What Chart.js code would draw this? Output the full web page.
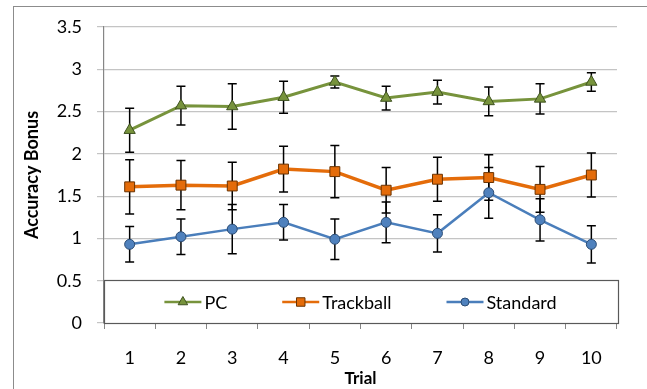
<!DOCTYPE html>
<html>
<head>
<meta charset="utf-8">
<script src="https://cdn.jsdelivr.net/npm/chart.js@4"></script>
<style>
  html, body { margin: 0; padding: 0; background: #fff; }
  .wrap { width: 647px; height: 389px; position: relative; }
</style>
</head>
<body>
<div class="wrap"><canvas class="acc-chart"></canvas></div>
<script>
const trials = ['1', '2', '3', '4', '5', '6', '7', '8', '9', '10'];
const yTickValues = [0, 0.5, 1, 1.5, 2, 2.5, 3, 3.5];

const pcMean = [2.28, 2.57, 2.56, 2.67, 2.85, 2.66, 2.73, 2.62, 2.65, 2.85];
const pcErr = [0.26, 0.23, 0.27, 0.19, 0.07, 0.14, 0.14, 0.17, 0.18, 0.11];

const trackMean = [1.61, 1.63, 1.62, 1.82, 1.79, 1.57, 1.70, 1.72, 1.58, 1.75];
const trackErr = [0.32, 0.29, 0.28, 0.27, 0.31, 0.27, 0.26, 0.27, 0.27, 0.26];

const stdMean = [0.93, 1.02, 1.11, 1.19, 0.99, 1.19, 1.06, 1.54, 1.22, 0.93];
const stdErr = [0.21, 0.21, 0.29, 0.21, 0.24, 0.24, 0.22, 0.30, 0.25, 0.22];

const fontFamily = 'Lato, "Open Sans", sans-serif';

// white page + the cut-off frame round the chart
const frame = {
    id: 'frame',
    beforeDraw(chart) {
        const c = chart.ctx;
        c.save();
        c.fillStyle = '#fff';
        c.fillRect(0, 0, chart.width, chart.height);
        c.strokeStyle = '#8c8c8c';
        c.lineWidth = 1;
        c.strokeRect(13.5, 6.5, chart.width + 20, chart.height + 20);
        c.restore();
    }
};

const errorBars = {
    id: 'errorBars',
    beforeDatasetsDraw(chart) {
        const c = chart.ctx;
        const y = chart.scales.y;
        c.save();
        c.strokeStyle = '#000';
        c.lineWidth = 1.5;
        chart.data.datasets.forEach((ds, i) => {
            chart.getDatasetMeta(i).data.forEach((pt, j) => {
                const hi = y.getPixelForValue(ds.data[j] + ds.errors[j]);
                const lo = y.getPixelForValue(ds.data[j] - ds.errors[j]);
                c.beginPath();
                c.moveTo(pt.x, hi); c.lineTo(pt.x, lo);
                c.moveTo(pt.x - 4.5, hi); c.lineTo(pt.x + 4.5, hi);
                c.moveTo(pt.x - 4.5, lo); c.lineTo(pt.x + 4.5, lo);
                c.stroke();
            });
        });
        c.restore();
    }
};

// legend box sitting inside the bottom of the plot
const boxLegend = {
    id: 'boxLegend',
    afterDraw(chart) {
        const c = chart.ctx;
        const a = chart.chartArea;
        const top = a.bottom - 43;
        c.save();
        c.fillStyle = '#fff';
        c.fillRect(a.left, top, a.right - a.left + 1, 43);
        c.strokeStyle = '#595959';
        c.lineWidth = 1.2;
        c.strokeRect(a.left + 0.5, top + 0.5, a.right - a.left + 1, 43);

        c.font = '18px ' + fontFamily;
        c.textBaseline = 'middle';
        const lineLen = 37, gap = 55;
        const items = chart.data.datasets.map(ds => ({ ds, w: lineLen + 3 + c.measureText(ds.label).width }));
        const total = items.reduce((s, it) => s + it.w, 0) + gap * (items.length - 1);
        let x = (a.left + a.right) / 2 - total / 2;
        const cy = top + 22;
        items.forEach(({ ds, w }) => {
            c.strokeStyle = ds.borderColor;
            c.lineWidth = 2.5;
            c.beginPath();
            c.moveTo(x, cy); c.lineTo(x + lineLen, cy);
            c.stroke();
            c.fillStyle = ds.pointBackgroundColor;
            c.strokeStyle = ds.pointBorderColor;
            c.lineWidth = ds.pointBorderWidth;
            Chart.helpers.drawPoint(c, { pointStyle: ds.pointStyle, radius: ds.pointRadius - 1, borderWidth: ds.pointBorderWidth }, x + lineLen / 2, cy);
            c.fillStyle = '#000';
            c.fillText(ds.label, x + lineLen + 3, cy + 1);
            x += w + gap;
        });
        c.restore();
    }
};

const ctx = document.querySelector('.acc-chart');

new Chart(ctx, {
    type: 'line',
    data: {
        labels: trials,
        datasets: [{
            label: 'PC',
            data: pcMean,
            errors: pcErr,
            borderColor: '#77933C',
            borderWidth: 3,
            pointStyle: 'triangle',
            pointRadius: 6.5,
            pointBackgroundColor: '#77933C',
            pointBorderColor: '#3f5220',
            pointBorderWidth: 1,
            tension: 0
        },
        {
            label: 'Trackball',
            data: trackMean,
            errors: trackErr,
            borderColor: '#E46C0A',
            borderWidth: 3.5,
            pointStyle: 'rect',
            pointRadius: 7,
            pointBackgroundColor: '#E46C0A',
            pointBorderColor: '#6b3300',
            pointBorderWidth: 1,
            tension: 0
        },
        {
            label: 'Standard',
            data: stdMean,
            errors: stdErr,
            borderColor: '#4A7EBB',
            borderWidth: 2.5,
            pointStyle: 'circle',
            pointRadius: 5,
            pointBackgroundColor: '#4F81BD',
            pointBorderColor: '#2c4d75',
            pointBorderWidth: 1,
            tension: 0
        }]
    },
    options: {
        responsive: true,
        maintainAspectRatio: false,
        animation: false,
        layout: {
            padding: { left: 13, top: 27, right: 30, bottom: 0 }
        },
        scales: {
            x: {
                offset: true,
                afterFit: s => { s.height = 66; },
                border: { display: true, color: '#868686', width: 1.2 },
                grid: {
                    display: true,
                    offset: true,
                    drawOnChartArea: false,
                    tickLength: 6,
                    color: '#868686'
                },
                ticks: {
                    color: '#000',
                    padding: 18,
                    font: { family: fontFamily, size: 18 }
                },
                title: {
                    display: true,
                    text: 'Trial',
                    color: '#000',
                    padding: { top: 0, bottom: 0 },
                    font: { family: fontFamily, size: 17, weight: 'bold' }
                }
            },
            y: {
                min: 0,
                max: 3.5,
                afterFit: s => { s.width = 91; },
                afterBuildTicks: s => { s.ticks = yTickValues.map(v => ({ value: v })); },
                border: { display: true, color: '#868686', width: 1.2 },
                grid: {
                    color: '#c4c4c4',
                    lineWidth: 1.2,
                    tickLength: 7
                },
                ticks: {
                    color: '#000',
                    padding: 15,
                    font: { family: fontFamily, size: 18 },
                    callback: v => String(v)
                },
                title: {
                    display: true,
                    text: 'Accuracy Bonus',
                    color: '#000',
                    padding: { top: 8, bottom: 0 },
                    font: { family: fontFamily, size: 18, weight: 'bold' }
                }
            }
        },
        plugins: {
            legend: { display: false },
            tooltip: { enabled: false }
        }
    },
    plugins: [frame, errorBars, boxLegend]
});
</script>
</body>
</html>
